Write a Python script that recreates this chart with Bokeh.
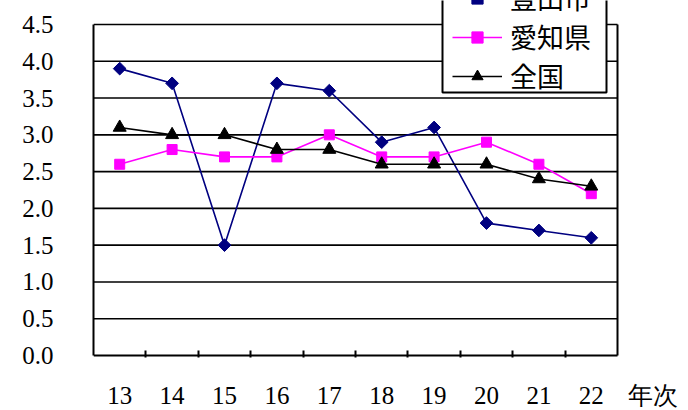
from bokeh.plotting import figure
from bokeh.models import Range1d, FixedTicker, Legend, LegendItem, NumeralTickFormatter, ColumnDataSource
from bokeh.embed import file_html
from bokeh.resources import INLINE
import math

# Survey years (Heisei) and rates per series
years = [13, 14, 15, 16, 17, 18, 19, 20, 21, 22]
toyota = [3.9, 3.7, 1.5, 3.7, 3.6, 2.9, 3.1, 1.8, 1.7, 1.6]
aichi = [2.6, 2.8, 2.7, 2.7, 3.0, 2.7, 2.7, 2.9, 2.6, 2.2]
national = [3.1, 3.0, 3.0, 2.8, 2.8, 2.6, 2.6, 2.6, 2.4, 2.3]

y_ticks = [0.0, 0.5, 1.0, 1.5, 2.0, 2.5, 3.0, 3.5, 4.0, 4.5]
series_names = ["豊田市", "愛知県", "全国"]
x_title = "年次"

SERIF = "Liberation Serif"
CJK = "Noto Sans CJK JP"

# layout in pixels: plotting box 93..617 x 24..355 on a 688x410 canvas
PX_X = 52.4               # pixels per year
PX_Y = 331 / 4.5          # pixels per unit
x0, x1 = years[0] - 0.5, years[-1] + 0.5
y0, y1 = y_ticks[0], y_ticks[-1]

# the frame reaches the top and right edges of the canvas so the legend and
# the axis title can sit outside the boxed area
p = figure(
    frame_width=595, frame_height=357,
    min_border_left=93, min_border_right=0, min_border_top=0, min_border_bottom=53,
    x_range=Range1d(x0, x0 + 595 / PX_X),
    y_range=Range1d(y0 - 2 / PX_Y, y1 + 24 / PX_Y),
    output_backend="svg", toolbar_location=None,
    background_fill_color="white", border_fill_color="white",
)
p.outline_line_color = None
p.xgrid.visible = False
p.ygrid.visible = False

# horizontal rules, boxed area's right edge and bottom
p.segment(x0=[x0] * (len(y_ticks) - 1), x1=[x1] * (len(y_ticks) - 1),
          y0=y_ticks[1:], y1=y_ticks[1:], line_color="black", line_width=1.6)
p.segment(x0=[x0, x1], x1=[x1, x1], y0=[y0, y0], y1=[y0, y1],
          line_color="black", line_width=2)

# x axis: labels at the years, tick marks between them, pointing inward
title_x = round(x0 + (652 - 93) / PX_X, 2)
xa = p.xaxis[0]
xa.ticker = FixedTicker(ticks=years + [title_x],
                        minor_ticks=[y + 0.5 for y in years[:-1]])
xa.major_label_overrides = {title_x: x_title}
xa.axis_line_color = None
xa.major_tick_line_color = None
xa.major_tick_in = 0
xa.major_tick_out = 0
xa.minor_tick_line_color = "black"
xa.minor_tick_line_width = 2
xa.minor_tick_in = 7
xa.minor_tick_out = 0
xa.major_label_text_font = SERIF
xa.major_label_text_font_size = "25px"
xa.major_label_text_color = "black"
xa.major_label_standoff = 24

ya = p.yaxis[0]
ya.bounds = (y0, y1)
ya.ticker = FixedTicker(ticks=y_ticks)
ya.formatter = NumeralTickFormatter(format="0.0")
ya.major_tick_line_color = None
ya.major_tick_in = 0
ya.major_tick_out = 0
ya.minor_tick_line_color = None
ya.axis_line_color = "black"
ya.axis_line_width = 2
ya.major_label_text_font = SERIF
ya.major_label_text_font_size = "25px"
ya.major_label_text_color = "black"
ya.major_label_standoff = 40

# series
styles = [
    (toyota, "#000080", "square", 9, math.pi / 4),
    (aichi, "#FF00FF", "square", 10, 0.0),
    (national, "black", "triangle", 13, 0.0),
]
items = []
for name, (vals, color, marker, size, ang) in zip(series_names, styles):
    src = ColumnDataSource(dict(x=years, y=vals, a=[ang] * len(years)))
    ln = p.line("x", "y", source=src, line_color=color, line_width=1.6)
    sc = p.scatter("x", "y", source=src, marker=marker, size=size, angle="a",
                   fill_color=color, line_color=color)
    items.append(LegendItem(label=name, renderers=[ln, sc], index=0))

# legend box, drawn over the rules
p.quad(left=x0 + (442 - 93) / PX_X, right=x0 + (606 - 93) / PX_X,
       bottom=(355 - 92) / PX_Y, top=y1 + 40 / PX_Y,
       fill_color="white", line_color="black", line_width=2)

legend = Legend(
    items=items, location=(359, 357 - 95), margin=0,
    border_line_color=None, background_fill_alpha=0,
    label_text_font=CJK, label_text_font_size="27px", label_text_color="black",
    glyph_width=50, glyph_height=28, label_standoff=8,
    padding=0, spacing=-1,
)
p.add_layout(legend)

open("out.html", "w").write(file_html(p, INLINE))
